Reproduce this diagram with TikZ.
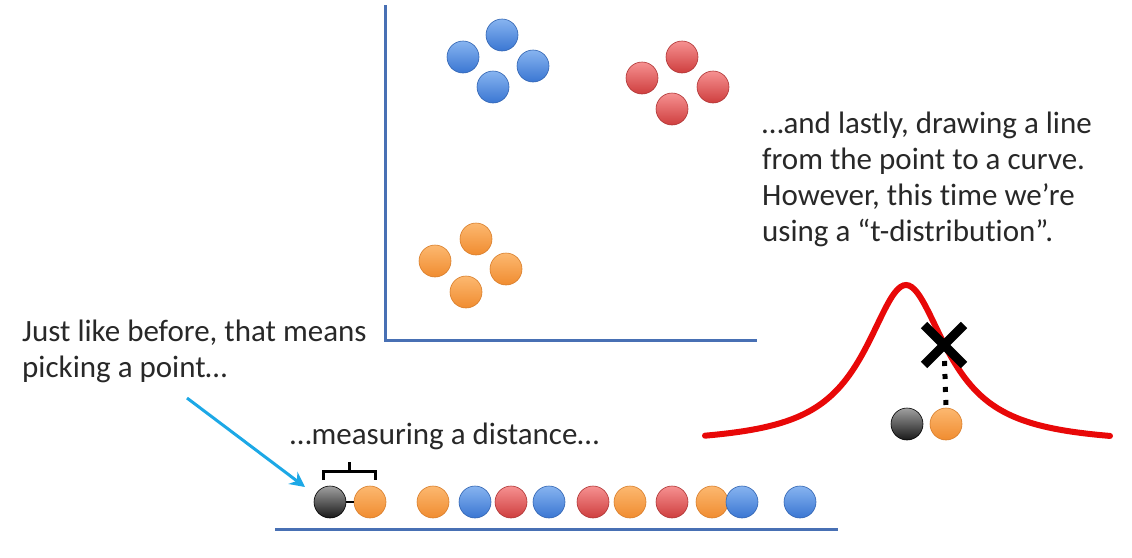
\documentclass[tikz,border=0pt]{standalone}
\usepackage{fontspec}
\setmainfont{Carlito}[RawFeature={-liga;-clig;-calt;-dlig}]
\usetikzlibrary{calc,arrows.meta,positioning,shapes.misc}
\definecolor{axisBlue}{RGB}{72,112,180}
\definecolor{arrowCyan}{RGB}{28,168,230}
\definecolor{curveRed}{RGB}{232,8,8}
\definecolor{txtGray}{RGB}{40,40,40}
\definecolor{dotBlueTop}{RGB}{135,180,240}
\definecolor{dotBlueBot}{RGB}{58,118,210}
\definecolor{dotRedTop}{RGB}{246,145,145}
\definecolor{dotRedBot}{RGB}{206,62,62}
\definecolor{dotOrangeTop}{RGB}{252,184,112}
\definecolor{dotOrangeBot}{RGB}{240,140,48}
\definecolor{dotGrayTop}{RGB}{160,160,160}
\definecolor{dotGrayBot}{RGB}{25,25,25}

\begin{document}
\begin{tikzpicture}[x=1pt,y=-1pt,
  dot/.style={circle, minimum size=32pt, inner sep=0pt, line width=0.6pt},
  bluedot/.style={dot, draw=dotBlueBot!85!black, top color=dotBlueTop, bottom color=dotBlueBot},
  reddot/.style={dot, draw=dotRedBot!85!black, top color=dotRedTop, bottom color=dotRedBot},
  orangedot/.style={dot, draw=dotOrangeBot!90!black, top color=dotOrangeTop, bottom color=dotOrangeBot},
  graydot/.style={dot, draw=black, top color=dotGrayTop, bottom color=dotGrayBot},
  caption/.style={text=txtGray, font=\fontsize{31}{36}\selectfont, align=left, inner sep=0pt, anchor=north west}]
\useasboundingbox (0,0) rectangle (1132,557);
% axes of the 2-d plot
\coordinate (origin) at (385,340);
\coordinate (ytop) at (385,5);
\coordinate (xend) at (757,340);
\draw[axisBlue, line width=3pt] (ytop) -- (origin) -- (xend);
% clusters
\node[bluedot] (b1) at (463,57) {};
\node[bluedot] (b2) at (502,35) {};
\node[bluedot] (b3) at (533,66) {};
\node[bluedot] (b4) at (493,87) {};
\node[reddot] (r1) at (642,78) {};
\node[reddot] (r2) at (682,57) {};
\node[reddot] (r3) at (713,87) {};
\node[reddot] (r4) at (672,109) {};
\node[orangedot] (o1) at (435,261) {};
\node[orangedot] (o2) at (476,239) {};
\node[orangedot] (o3) at (506,269) {};
\node[orangedot] (o4) at (466,292) {};
% 1-d line
\coordinate (lineleft) at (275,529);
\coordinate (lineright) at (838,529);
\draw[axisBlue, line width=3pt] (lineleft) -- (lineright);
\node[graydot] (pick) at (330,502) {};
\node[orangedot] (near) at (370,502) {};
\draw[black, line width=2pt] (pick.east) -- (near.west);
\node[orangedot] at (433,502) {};
\node[bluedot] at (475,502) {};
\node[reddot] at (511,502) {};
\node[bluedot] at (549,502) {};
\node[reddot] at (593,502) {};
\node[orangedot] at (630,502) {};
\node[reddot] at (672,502) {};
\node[orangedot] at (712,502) {};
\node[bluedot] at (742,502) {};
\node[bluedot] at (800,502) {};
\draw[black, line width=3pt] (323,480) -- (323,471) -- (375,471) -- (375,480)
  (349,471) -- (349,462);
% texts
\node[caption] (picktext) at (22,320) {Just like before, that means\\picking a point\ldots};
\node[caption] (disttext) at (290,423) {\ldots measuring a distance\ldots};
\node[caption] (curvetext) at (762,112) {\ldots and lastly, drawing a line\\from the point to a curve.\\However, this time we’re\\using a “t-distribution”.};
\coordinate (arrowtail) at (187,398);
\coordinate (arrowhead) at (305,487);
\draw[arrowCyan, line width=3pt, -{Stealth[length=15pt,width=15pt]}] (arrowtail) -- (arrowhead);
% t-distribution
\draw[curveRed, line width=6pt, line cap=round, domain=705:1110, samples=150, smooth]
  plot (\x, {445 - 160/(1+((\x-906)/50)^2)});
\node[graydot] (tpick) at (907,424) {};
\node[orangedot] (tpoint) at (946,424) {};
\node[cross out, draw=black, line width=9pt, minimum size=31pt, inner sep=0pt] (xmark) at (944,345) {};
\draw[black, line width=5pt, dash pattern=on 5pt off 8pt, shorten <=16pt] (xmark.center) -- (tpoint.north);
\end{tikzpicture}
\end{document}
